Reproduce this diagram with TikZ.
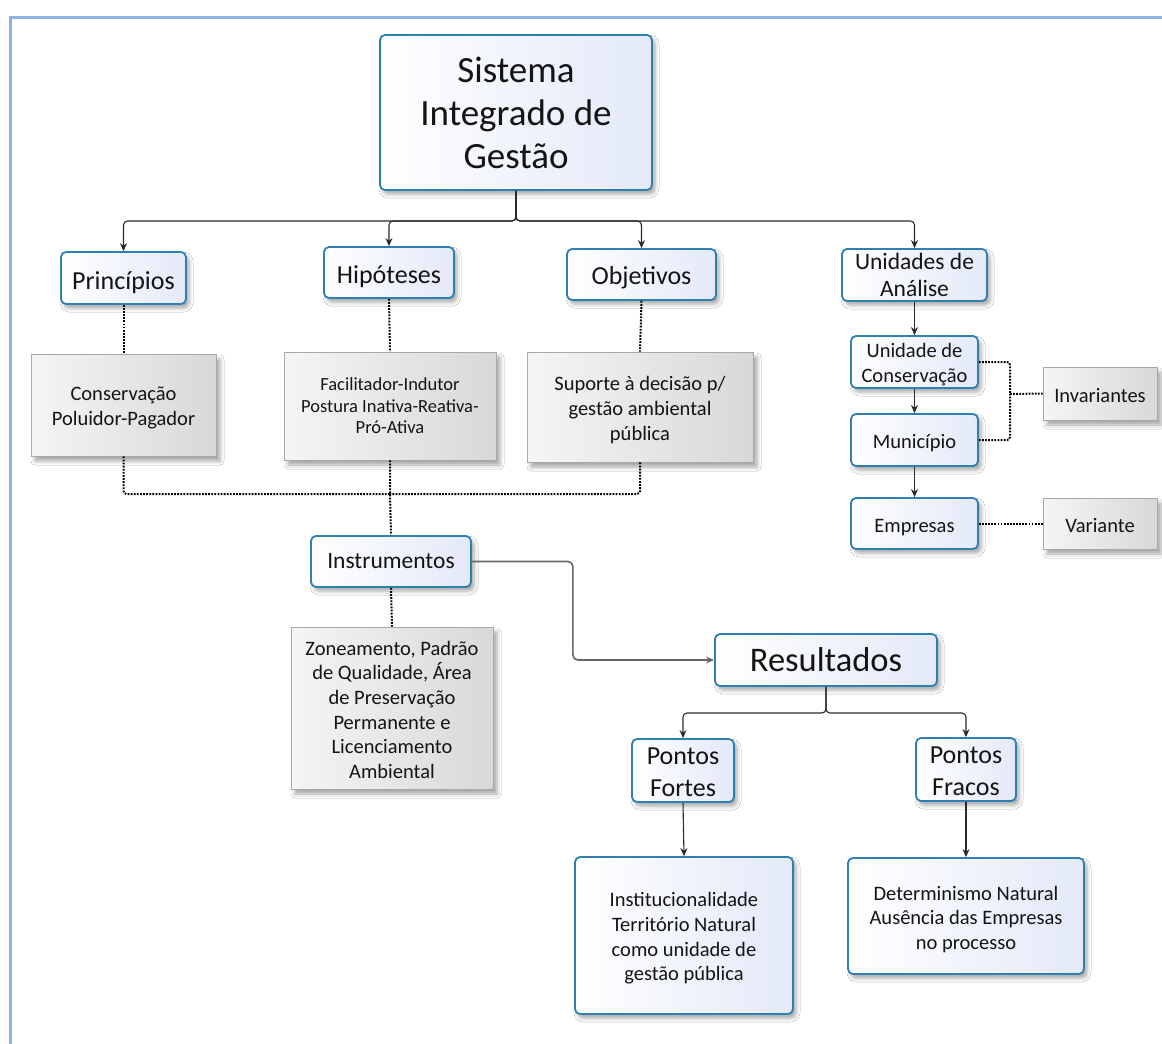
\documentclass[tikz,border=0pt]{standalone}
\usepackage{fontspec}
\setmainfont{Carlito}
\usetikzlibrary{arrows.meta,shadows,shadows.blur}

\definecolor{frameblue}{HTML}{8DB3E2}
\definecolor{boxedge}{HTML}{2E80B0}
\definecolor{boxfill}{HTML}{E3E9F8}
\definecolor{grayedge}{HTML}{A8A8A8}
\definecolor{grayfillA}{HTML}{F5F5F5}
\definecolor{grayfillB}{HTML}{D8D8D8}
\definecolor{linkgray}{HTML}{2A2A2A}
\definecolor{inktext}{HTML}{141414}

\tikzset{
  bluebox/.style={draw=boxedge, line width=1.8pt, rounded corners=5pt,
    left color=white, right color=boxfill, align=center, inner sep=0pt,
    text=inktext,
    blur shadow={shadow xshift=3pt, shadow yshift=-4pt, shadow blur radius=4pt, shadow opacity=35}},
  graybox/.style={draw=grayedge, line width=0.8pt,
    left color=grayfillA, right color=grayfillB, align=center, inner sep=0pt,
    text=inktext,
    blur shadow={shadow xshift=4pt, shadow yshift=-5pt, shadow blur radius=4pt, shadow opacity=35}},
  sz/.style 2 args={minimum width=#1pt, minimum height=#2pt},
  % a strut taller than the text block (#2 extra lines), so the text sits #1pt lower
  lowered/.style 2 args={execute at begin node={%
      \rule{0pt}{\dimexpr0.78em+#2\baselineskip+#1pt*2\relax}}},
  link/.style={draw=linkgray, line width=1.1pt, rounded corners=4pt,
    -{Stealth[length=8pt,width=7pt]}},
  softlink/.style={draw=black!60, line width=1.6pt, rounded corners=5pt,
    -{Stealth[length=8pt,width=7pt]}},
  dotlink/.style={draw=black, line width=2pt, dash pattern=on 1.8pt off 1.3pt,
    rounded corners=3pt},
  fTitle/.style={font=\fontsize{37}{43}\selectfont},
  fRes/.style={font=\fontsize{34.5}{40}\selectfont},
  fOne/.style={font=\fontsize{26}{32}\selectfont},
  fMid/.style={font=\fontsize{23.5}{27}\selectfont},
  fSmall/.style={font=\fontsize{20.5}{24.7}\selectfont},
  fTiny/.style={font=\fontsize{18.5}{21.5}\selectfont},
}

\begin{document}
\begin{tikzpicture}[x=1pt,y=-1pt]
\useasboundingbox[fill=white] (0,0) rectangle (1162,1044);

% page frame
\draw[frameblue, line width=3pt] (1162,17) -- (10,17) -- (10,1044);

% root
\node[bluebox, sz={272}{155}, fTitle] (sis) at (516,112.5) {Sistema\\Integrado de\\Gestão};

% first level
\node[bluebox, sz={125}{52}, fOne, lowered={3}{0}] (prin) at (123.5,278) {Princípios};
\node[bluebox, sz={130}{51}, fOne, lowered={2.5}{0}] (hip) at (389,272.5) {Hipóteses};
\node[bluebox, sz={149}{51}, fOne, lowered={2.5}{0}] (obj) at (641.5,274.5) {Objetivos};
\node[bluebox, sz={145}{52}, fMid] (uda) at (914.5,275) {Unidades de\\Análise};

% descriptions
\node[graybox, sz={185}{102}, fSmall, lowered={2}{1}] (cons) at (123.5,405) {Conservação\\Poluidor-Pagador};
\node[graybox, sz={212}{108}, fTiny] (fac) at (390,406) {Facilitador-Indutor\\Postura Inativa-Reativa-\\Pró-Ativa};
\node[graybox, sz={226}{110}, fSmall, lowered={2}{2}] (sup) at (640,407) {Suporte à decisão p/\\gestão ambiental\\pública};

% instruments
\node[bluebox, sz={160}{51}, fMid] (instr) at (391,561.5) {Instrumentos};
\node[graybox, sz={202}{162}, fSmall, lowered={1}{5}] (zon) at (392,708) {Zoneamento, Padrão\\de Qualidade, Área\\de Preservação\\Permanente e\\Licenciamento\\Ambiental};

% results
\node[bluebox, sz={222}{52}, fRes] (res) at (826,660) {Resultados};
\node[bluebox, sz={102}{63}, fOne, lowered={0}{1}] (pfor) at (683,770.5) {Pontos\\Fortes};
\node[bluebox, sz={100}{63}, fOne, lowered={0}{1}] (pfra) at (966,769.5) {Pontos\\Fracos};
\node[bluebox, sz={218}{157}, fSmall, lowered={2}{3}] (inst) at (684,935.5) {Institucionalidade\\Território Natural\\como unidade de\\gestão pública};
\node[bluebox, sz={236}{116}, fSmall, lowered={2.5}{2}] (det) at (966,916) {Determinismo Natural\\Ausência das Empresas\\no processo};

% units of analysis
\node[bluebox, sz={127}{52}, fSmall, lowered={1.5}{1}] (udc) at (914.5,362) {Unidade de\\Conservação};
\node[bluebox, sz={127}{52}, fSmall, lowered={2.5}{0}] (mun) at (914.5,440) {Município};
\node[bluebox, sz={127}{51}, fSmall, lowered={3}{0}] (emp) at (914.5,523.5) {Empresas};
\node[graybox, sz={114}{53}, fSmall, lowered={1.5}{0}] (inv) at (1100,393.5) {Invariantes};
\node[graybox, sz={114}{51}, fSmall, lowered={1.5}{0}] (var) at (1100,523.5) {Variante};

% junction points
\coordinate (jtop) at (516,221);
\coordinate (jmid) at (390,494);
\coordinate (jinv) at (1010,394);
\coordinate (jres) at (826,713);

% root to first level
\draw[link] (sis.south) -- (jtop) -| (prin.north);
\draw[link] (sis.south) -- (jtop) -| (hip.north);
\draw[link] (sis.south) -- (jtop) -| (obj.north);
\draw[link] (sis.south) -- (jtop) -| (uda.north);

% first level to descriptions
\draw[dotlink] (prin.south) -- (cons.north);
\draw[dotlink] (hip.south) -- (fac.north);
\draw[dotlink] (obj.south) -- (sup.north);

% descriptions merge into instruments
\draw[dotlink] (cons.south) |- (jmid);
\draw[dotlink] (sup.south) |- (jmid);
\draw[dotlink] (fac.south) -- (jmid) -- (instr.north);
\draw[dotlink] (instr.south) -- (zon.north);

% instruments to results
\draw[softlink] (instr.east) -- ++(101,0) |- (res.west);

% results branches
\draw[link] (res.south) -- (jres) -| (pfor.north);
\draw[link] (res.south) -- (jres) -| (pfra.north);
\draw[link] (pfor.south) -- (inst.north);
\draw[link] (pfra.south) -- (det.north);

% units chain
\draw[link] (uda.south) -- (udc.north);
\draw[link] (udc.south) -- (mun.north);
\draw[link] (mun.south) -- (emp.north);
\draw[dotlink] (udc.east) -| (jinv);
\draw[dotlink] (mun.east) -| (jinv);
\draw[dotlink] (jinv) -- (inv.west);
\draw[dotlink] (emp.east) -- (var.west);
\end{tikzpicture}
\end{document}
